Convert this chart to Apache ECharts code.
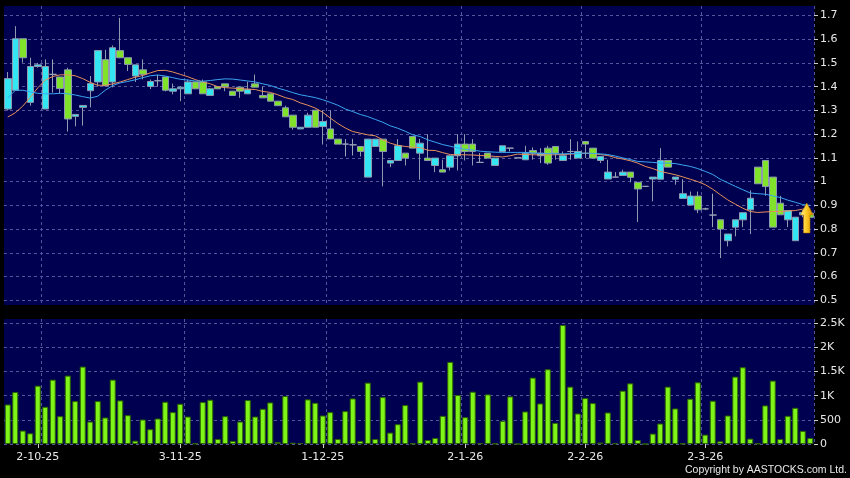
<!DOCTYPE html>
<html>
<head>
<meta charset="utf-8">
<script src="https://cdn.jsdelivr.net/npm/echarts@6/dist/echarts.min.js"></script>
<style>
html, body { margin: 0; padding: 0; background: #000; }
#chart { width: 850px; height: 478px; }
</style>
</head>
<body>
<div id="chart"></div>
<script>
// daily prices, one entry per trading day
var openP = [1.306,1.385,1.602,1.334,1.485,1.306,1.452,1.441,1.471,1.275,
  1.313,1.383,1.420,1.514,1.420,1.552,1.522,1.445,1.471,1.401,
  1.425,1.441,1.381,1.391,1.370,1.420,1.420,1.363,1.400,1.412,
  1.381,1.398,1.370,1.412,1.363,1.370,1.339,1.311,1.280,1.222,
  1.229,1.301,1.232,1.222,1.179,1.158,1.155,1.148,1.019,1.148,
  1.179,1.078,1.089,1.120,1.190,1.120,1.099,1.068,1.050,1.061,
  1.109,1.158,1.158,1.081,1.120,1.068,1.127,1.141,1.100,1.092,
  1.131,1.109,1.141,1.148,1.089,1.127,1.099,1.169,1.141,1.089,
  1.011,1.019,1.026,1.040,0.997,0.980,1.011,1.010,1.089,1.010,
  0.929,0.901,0.939,0.885,0.859,0.839,0.751,0.808,0.839,0.881,
  1.061,1.089,1.019,0.909,0.839,0.751,0.860,0.867];
var closeP = [1.434,1.602,1.522,1.485,1.492,1.485,1.452,1.392,1.264,1.283,
  1.321,1.413,1.552,1.404,1.564,1.522,1.494,1.492,1.452,1.422,
  1.425,1.385,1.391,1.398,1.420,1.391,1.370,1.391,1.391,1.400,
  1.363,1.381,1.388,1.398,1.353,1.339,1.320,1.273,1.229,1.229,
  1.280,1.229,1.253,1.180,1.158,1.158,1.155,1.127,1.179,1.179,
  1.127,1.089,1.151,1.099,1.141,1.162,1.089,1.099,1.040,1.109,
  1.158,1.127,1.127,1.081,1.099,1.099,1.151,1.141,1.100,1.120,
  1.120,1.120,1.078,1.120,1.109,1.127,1.127,1.158,1.099,1.106,
  1.040,1.019,1.040,1.018,0.969,0.980,1.019,1.089,1.061,1.019,
  0.949,0.939,0.881,0.885,0.859,0.800,0.779,0.839,0.869,0.930,
  0.991,0.979,0.808,0.860,0.878,0.850,0.870,0.849];
var lowP = [1.300,1.385,1.501,1.320,1.480,1.306,1.375,1.373,1.211,1.233,
  1.236,1.313,1.400,1.400,1.397,1.520,1.466,1.420,1.431,1.390,
  1.400,1.380,1.368,1.339,1.370,1.391,1.370,1.363,1.391,1.381,
  1.363,1.353,1.370,1.398,1.353,1.339,1.320,1.273,1.219,1.222,
  1.229,1.229,1.156,1.179,1.158,1.106,1.110,1.106,1.019,1.148,
  0.980,1.061,1.089,1.068,1.141,1.008,1.089,1.040,1.040,1.047,
  1.047,1.089,1.068,1.080,1.099,1.068,1.127,1.127,1.100,1.092,
  1.092,1.078,1.071,1.092,1.089,1.092,1.099,1.099,1.099,1.078,
  1.011,1.019,1.026,0.997,0.830,0.980,0.917,1.010,1.061,0.987,
  0.929,0.900,0.867,0.880,0.808,0.678,0.727,0.769,0.808,0.779,
  0.991,0.940,0.808,0.860,0.808,0.751,0.850,0.849];
var highP = [1.462,1.655,1.602,1.522,1.500,1.515,1.515,1.441,1.480,1.285,
  1.321,1.445,1.552,1.555,1.574,1.690,1.522,1.492,1.515,1.430,
  1.450,1.441,1.413,1.400,1.430,1.420,1.430,1.395,1.400,1.412,
  1.381,1.400,1.421,1.451,1.400,1.370,1.339,1.320,1.280,1.229,
  1.290,1.301,1.301,1.300,1.179,1.179,1.180,1.148,1.179,1.179,
  1.179,1.089,1.179,1.120,1.190,1.180,1.200,1.099,1.092,1.109,
  1.200,1.200,1.179,1.120,1.120,1.099,1.151,1.141,1.100,1.151,
  1.144,1.141,1.151,1.148,1.127,1.179,1.169,1.169,1.141,1.106,
  1.092,1.040,1.050,1.040,0.997,0.980,1.019,1.141,1.089,1.019,
  1.010,0.958,0.958,0.890,0.949,0.839,0.779,0.839,0.869,0.963,
  1.061,1.089,1.019,0.940,0.878,0.850,0.880,0.867];

// moving averages as drawn (orange = short, blue = long)
var maShort = [1.272,1.290,1.318,1.355,1.395,1.428,1.443,1.450,1.450,1.446,
  1.434,1.418,1.406,1.406,1.412,1.420,1.430,1.440,1.447,1.458,
  1.468,1.469,1.462,1.452,1.442,1.430,1.420,1.412,1.400,1.396,
  1.394,1.392,1.390,1.388,1.380,1.376,1.366,1.354,1.346,1.332,
  1.322,1.310,1.292,1.268,1.245,1.226,1.211,1.204,1.197,1.193,
  1.176,1.162,1.153,1.148,1.145,1.143,1.132,1.131,1.122,1.114,
  1.113,1.113,1.112,1.110,1.109,1.106,1.104,1.109,1.116,1.114,
  1.113,1.113,1.113,1.113,1.114,1.116,1.118,1.120,1.118,1.114,
  1.110,1.101,1.095,1.088,1.078,1.064,1.055,1.043,1.036,1.029,
  1.020,1.010,1.000,0.987,0.968,0.945,0.923,0.905,0.888,0.874,
  0.870,0.872,0.874,0.874,0.876,0.878,0.884,0.886];
var maLong = [1.352,1.385,1.385,1.378,1.372,1.370,1.370,1.372,1.370,1.365,
  1.358,1.352,1.360,1.385,1.405,1.416,1.422,1.429,1.438,1.446,
  1.449,1.445,1.438,1.431,1.428,1.424,1.423,1.426,1.430,1.433,
  1.432,1.428,1.424,1.420,1.412,1.405,1.394,1.385,1.375,1.366,
  1.360,1.354,1.345,1.334,1.322,1.306,1.295,1.283,1.274,1.262,
  1.250,1.235,1.225,1.212,1.197,1.190,1.176,1.166,1.156,1.149,
  1.142,1.136,1.133,1.128,1.126,1.124,1.123,1.123,1.123,1.123,
  1.121,1.119,1.118,1.117,1.117,1.118,1.119,1.120,1.119,1.117,
  1.114,1.108,1.100,1.093,1.085,1.083,1.081,1.078,1.078,1.076,
  1.070,1.064,1.055,1.043,1.030,1.010,0.995,0.980,0.966,0.952,
  0.949,0.947,0.940,0.933,0.922,0.913,0.903,0.900];

var volume = [819,1076,278,222,1208,771,1333,576,1417,889,
  1604,465,889,549,1333,903,597,69,507,306,
  528,875,660,833,569,10,868,917,104,576,
  63,465,910,569,729,861,42,993,28,20,
  924,854,590,660,104,681,944,63,1271,104,
  972,236,410,806,10,1292,83,125,583,1701,
  1014,556,1083,20,1028,10,479,986,0,674,
  1375,840,1549,438,2465,1188,632,951,847,30,
  653,15,1104,1257,83,0,215,424,1188,736,
  10,938,1278,194,896,56,590,1396,1590,111,
  10,799,1313,104,583,750,271,125];

// date labels (by day index) and where the vertical grid lines fall
var dateLabels = {4: '2-10-25', 23: '3-11-25', 42: '1-12-25', 61: '2-1-26', 77: '2-2-26', 93: '2-3-26'};
var gridBreaks = [5, 24, 43, 61, 77, 93];
var priceTicks = [0.5, 0.6, 0.7, 0.8, 0.9, 1, 1.1, 1.2, 1.3, 1.4, 1.5, 1.6, 1.7];
var volTicks = [0, 500, 1000, 1500, 2000, 2500];

var days = volume.map(function (v, i) { return i; });
var candles = openP.map(function (o, i) {
  return [o, closeP[i], lowP[i], highP[i]];
});

var chart = echarts.init(document.getElementById('chart'));

var gridLine = { show: true, lineStyle: { color: '#54549a', type: [3, 3], width: 1 } };
var txt = '#e8e8e8';

var option = {
  animation: false,
  backgroundColor: '#000',
  grid: [
    { left: 4, right: 36, top: 6, height: 299, show: true, backgroundColor: '#000050', borderWidth: 0 },
    { left: 4, right: 36, top: 319, height: 125, show: true, backgroundColor: '#000050', borderWidth: 0 }
  ],
  xAxis: [
    {
      type: 'category', gridIndex: 0, data: days, boundaryGap: true,
      axisLine: { show: false }, axisTick: { show: false }, axisLabel: { show: false },
      splitLine: Object.assign({ interval: function (i) { return gridBreaks.indexOf(i) >= 0; } }, gridLine)
    },
    {
      type: 'category', gridIndex: 1, data: days, boundaryGap: true,
      axisLine: { show: false },
      axisTick: {
        show: true, alignWithLabel: true, length: 4, lineStyle: { color: '#cccccc' },
        interval: function (i) { return dateLabels[i] !== undefined; }
      },
      axisLabel: {
        color: txt, fontFamily: 'DejaVu Sans', fontSize: 11, margin: 8,
        interval: function (i) { return dateLabels[i] !== undefined; },
        formatter: function (v, i) { return dateLabels[i] || ''; }
      },
      splitLine: Object.assign({ interval: function (i) { return gridBreaks.indexOf(i) >= 0; } }, gridLine)
    }
  ],
  yAxis: [
    {
      type: 'value', gridIndex: 0, position: 'right', min: 0.48, max: 1.74,
      axisLine: { show: false },
      axisTick: { show: true, length: 4, lineStyle: { color: '#cccccc' }, customValues: priceTicks },
      axisLabel: { color: txt, fontFamily: 'DejaVu Sans', fontSize: 11, margin: 6, customValues: priceTicks },
      splitLine: gridLine
    },
    {
      type: 'value', gridIndex: 1, position: 'right', min: 0, max: 2590,
      axisLine: { show: false },
      axisTick: { show: true, length: 4, lineStyle: { color: '#cccccc' }, customValues: volTicks },
      axisLabel: {
        color: txt, fontFamily: 'DejaVu Sans', fontSize: 11, margin: 6, customValues: volTicks,
        formatter: function (v) { return v >= 1000 ? (v / 1000) + 'K' : String(v); }
      },
      splitLine: gridLine
    }
  ],
  graphic: [{
    type: 'text', right: 3, bottom: 2,
    style: { text: 'Copyright by AASTOCKS.com Ltd.', fill: txt, font: '10.5px "Liberation Sans"' }
  }],
  series: [
    {
      name: 'price', type: 'candlestick', xAxisIndex: 0, yAxisIndex: 0,
      barWidth: 7, data: candles, z: 3,
      itemStyle: {
        color: '#33e6f2', color0: '#80e22a',
        borderColor: '#8e9ab0', borderColor0: '#8e9ab0', borderColorDoji: '#9aa2b6', borderWidth: 1
      },
      markPoint: {
        silent: true,
        label: { show: false },
        symbol: 'path://M6,0 L12,12 L9,12 L9,30 L3,30 L3,12 L0,12 Z',
        symbolSize: [13, 30],
        data: [{
          coord: [106, 0.847], symbolOffset: [4, 0],
          itemStyle: {
            color: new echarts.graphic.LinearGradient(0, 0, 1, 0, [
              { offset: 0, color: '#fff0a0' },
              { offset: 0.5, color: '#ffc820' },
              { offset: 1, color: '#d08a00' }
            ]),
            borderColor: '#b07800', borderWidth: 0.5
          }
        }]
      }
    },
    {
      name: 'MA short', type: 'line', xAxisIndex: 0, yAxisIndex: 0, data: maShort,
      showSymbol: false, z: 4, lineStyle: { color: '#e8905a', width: 1 }
    },
    {
      name: 'MA long', type: 'line', xAxisIndex: 0, yAxisIndex: 0, data: maLong,
      showSymbol: false, z: 4, lineStyle: { color: '#3aa6f2', width: 1 }
    },
    {
      name: 'volume', type: 'bar', xAxisIndex: 1, yAxisIndex: 1, data: volume,
      barWidth: 6, itemStyle: { color: '#7ff418', borderColor: '#2d6400', borderWidth: 1 }
    }
  ]
};

chart.setOption(option);
window.onresize = function () { chart.resize(); };
</script>
</body>
</html>
